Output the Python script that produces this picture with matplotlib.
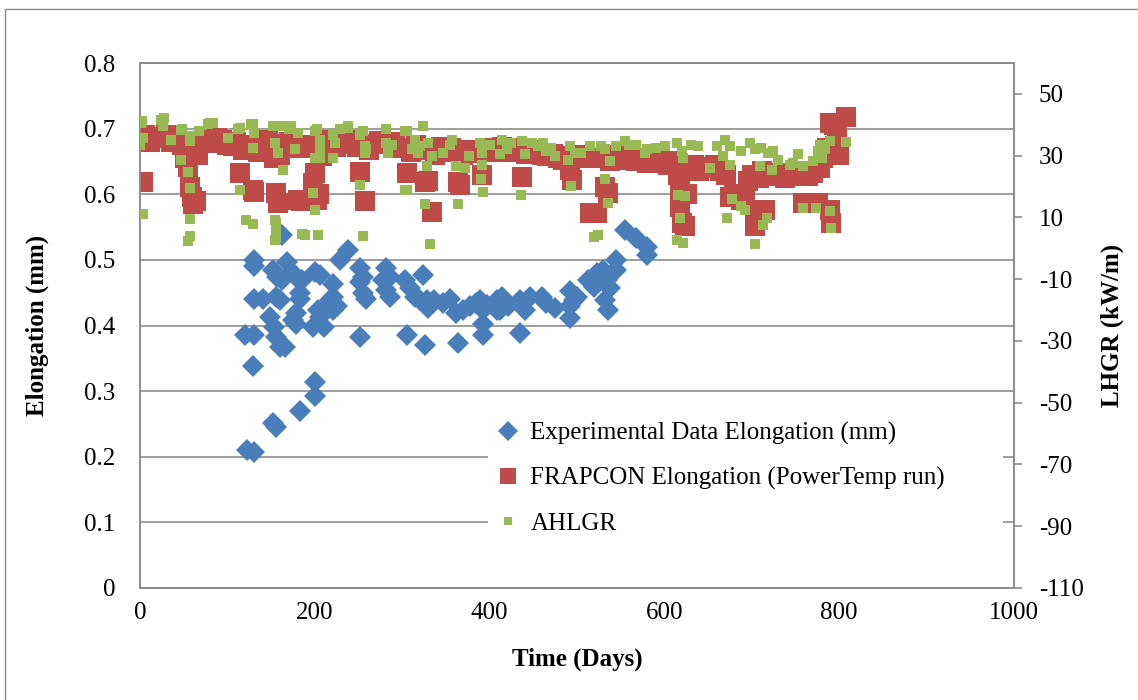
import matplotlib
matplotlib.use("Agg")
import matplotlib.pyplot as plt
from matplotlib.lines import Line2D
from matplotlib.patches import Rectangle

plt.rcParams['font.family'] = ['Liberation Serif', 'DejaVu Serif']
plt.rcParams['font.size'] = 18
plt.rcParams['axes.unicode_minus'] = False

# Experimental data elongation (mm)
exp_days = [122, 130, 129, 120, 130, 130, 141, 130, 131, 162, 149, 153, 156, 160, 166,
            156, 160, 152.5, 156.4, 162, 168, 173.5, 179, 185, 183, 183, 179, 179, 175,
            156, 152.5, 183, 200, 200, 200, 206, 198, 206, 210, 204, 214, 217, 221, 221,
            221, 225, 229, 238, 252, 252, 255.6, 252, 255.6, 259, 282, 286, 278, 282, 286,
            305, 303, 309, 315, 320, 324, 328, 330, 336, 326, 347, 355, 364, 362, 370,
            377.6, 385, 389, 393, 396.6, 393, 393, 408, 408, 414, 421, 412, 435, 435,
            440.5, 446, 460, 465, 475, 492, 496, 492, 492, 500, 513, 522.5, 519, 530, 534,
            537.6, 532, 536, 545, 545, 555, 568, 580, 580]
exp_elong = [0.210, 0.207, 0.339, 0.386, 0.386, 0.440, 0.440, 0.500, 0.490, 0.538, 0.413,
             0.398, 0.383, 0.368, 0.368, 0.444, 0.439, 0.485, 0.474, 0.469, 0.497, 0.482,
             0.474, 0.469, 0.449, 0.441, 0.419, 0.403, 0.408, 0.246, 0.251, 0.269, 0.314,
             0.292, 0.482, 0.477, 0.398, 0.413, 0.398, 0.424, 0.429, 0.439, 0.464, 0.444,
             0.424, 0.429, 0.500, 0.515, 0.383, 0.487, 0.474, 0.467, 0.449, 0.441, 0.487,
             0.474, 0.469, 0.454, 0.444, 0.386, 0.469, 0.457, 0.444, 0.439, 0.477, 0.439,
             0.426, 0.439, 0.370, 0.434, 0.441, 0.373, 0.419, 0.424, 0.429, 0.434, 0.439,
             0.424, 0.431, 0.403, 0.386, 0.439, 0.424, 0.444, 0.429, 0.424, 0.388, 0.439,
             0.424, 0.444, 0.444, 0.434, 0.426, 0.452, 0.439, 0.429, 0.411, 0.444, 0.469,
             0.480, 0.459, 0.485, 0.469, 0.457, 0.439, 0.424, 0.500, 0.485, 0.546, 0.533,
             0.520, 0.507]

# FRAPCON elongation (PowerTemp run), mm
frap_days = [0, 3, 6, 12, 18, 24, 30, 36, 42, 48, 52, 55, 57, 59, 61, 64, 66, 70, 76, 82,
             88, 94, 100, 106, 110, 114, 118, 124, 129, 131, 135, 140, 146, 150, 153, 156,
             158, 160, 164, 170, 176, 181, 184, 188, 194, 198, 200, 202, 205, 208, 212,
             218, 224, 230, 236, 242, 248, 252, 257, 258, 262, 268, 274, 280, 286, 292,
             298, 305, 310, 316, 322, 326, 330, 334, 338, 344, 350, 356, 364, 366, 370,
             376, 382, 388, 391, 396, 402, 408, 414, 420, 426, 432, 437, 442, 448, 454,
             460, 466, 472, 478, 484, 490, 492, 494, 498, 504, 510, 515, 520, 523, 526,
             532, 535, 538, 544, 550, 556, 562, 568, 574, 580, 586, 592, 598, 604, 610,
             615, 618, 618, 620, 624, 626, 628, 634, 640, 646, 652, 658, 664, 670, 675,
             680, 688, 692, 696, 700, 704, 704, 708, 712, 715, 720, 726, 732, 738, 744,
             750, 756, 759, 764, 770, 776, 778, 782, 786, 789, 791, 790, 794, 798, 800, 808]
frap_elong = [0.685, 0.619, 0.690, 0.680, 0.688, 0.686, 0.690, 0.680, 0.684, 0.675, 0.655,
              0.642, 0.611, 0.596, 0.585, 0.590, 0.660, 0.680, 0.683, 0.678, 0.686, 0.682,
              0.675, 0.673, 0.680, 0.632, 0.668, 0.675, 0.606, 0.604, 0.665, 0.680, 0.683,
              0.672, 0.655, 0.602, 0.587, 0.660, 0.676, 0.680, 0.670, 0.591, 0.590, 0.670,
              0.675, 0.617, 0.632, 0.591, 0.600, 0.658, 0.680, 0.683, 0.672, 0.678, 0.683,
              0.676, 0.672, 0.634, 0.589, 0.590, 0.668, 0.676, 0.681, 0.676, 0.680, 0.674,
              0.670, 0.632, 0.665, 0.675, 0.668, 0.619, 0.620, 0.573, 0.660, 0.672, 0.665,
              0.670, 0.619, 0.614, 0.660, 0.668, 0.663, 0.665, 0.629, 0.668, 0.670, 0.665,
              0.672, 0.670, 0.664, 0.668, 0.627, 0.662, 0.668, 0.665, 0.660, 0.658, 0.662,
              0.655, 0.652, 0.658, 0.637, 0.622, 0.655, 0.660, 0.656, 0.571, 0.572, 0.571,
              0.655, 0.611, 0.602, 0.650, 0.660, 0.655, 0.652, 0.656, 0.650, 0.653, 0.648,
              0.655, 0.651, 0.648, 0.645, 0.650, 0.630, 0.611, 0.581, 0.556, 0.551, 0.600,
              0.640, 0.645, 0.636, 0.640, 0.642, 0.645, 0.635, 0.630, 0.596, 0.600, 0.591,
              0.595, 0.620, 0.630, 0.576, 0.551, 0.625, 0.635, 0.576, 0.628, 0.632, 0.630,
              0.625, 0.628, 0.632, 0.630, 0.587, 0.628, 0.632, 0.587, 0.640, 0.655, 0.670,
              0.576, 0.556, 0.709, 0.705, 0.690, 0.660, 0.718]

# AHLGR (kW/m), secondary axis
ahlgr_days = [0, 2, 1.5, 3.4, 3.4, 24, 26, 27, 35.5, 47, 47, 48, 55, 57, 57, 57, 57, 55,
              57, 68, 78, 80, 83.5, 100.7, 112, 114, 114, 121.7, 129, 127, 131, 129, 129,
              152, 162, 154, 158, 164, 154, 156, 156, 154, 156, 173, 171, 181, 177, 185,
              198, 200, 200, 202, 206, 206, 200, 206, 189, 204, 221, 223, 221, 229, 238,
              238, 252, 257, 257, 252, 255, 255, 259, 282, 282, 288, 284, 303, 305, 303,
              305, 324, 315, 311, 318, 330, 320, 334, 328, 326, 332, 347, 357, 355, 362,
              372, 376, 363.5, 389, 391, 391, 390, 393, 400, 414, 419.5, 412, 425, 437,
              448, 440.5, 435.6, 455, 461.5, 465, 470, 475, 492, 498, 490, 493, 505, 515,
              528, 532, 545, 555, 538, 532, 536, 519, 524, 560, 568, 580, 578, 590, 600.7,
              614, 620, 621.6, 616, 623.6, 618, 614, 621.6, 630, 639, 652, 660, 669, 667,
              675, 675, 677, 672, 688, 692, 688, 698, 704, 709, 711, 719, 724.6, 730, 723,
              717, 713, 704, 744, 753, 747.5, 759, 759, 774, 770, 776, 778, 784, 789, 780,
              789, 791, 808]
ahlgr_lhgr = [33.6, 41.2, 40.6, 35.8, 11.2, 41.7, 39.5, 42.3, 35.2, 38.2, 28.7, 38.5, 24.6,
              34.7, 19.6, 9.5, 3.9, 2.3, 36.3, 37.9, 40.1, 40.6, 40.6, 35.8, 38.5, 19.0,
              39.0, 9.3, 8.0, 40.1, 37.4, 32.5, 40.1, 39.5, 39.5, 34.1, 30.9, 25.5, 9.3,
              6.6, 3.4, 2.8, 8.3, 39.5, 38.5, 37.4, 32.0, 4.5, 18.0, 12.5, 37.9, 38.5, 35.2,
              32.5, 29.3, 29.3, 4.4, 4.4, 36.8, 34.1, 29.3, 38.5, 39.0, 39.5, 36.8, 33.1,
              30.9, 20.6, 4.0, 37.9, 32.0, 38.5, 34.1, 33.6, 30.9, 37.9, 19.0, 18.8, 37.9,
              39.5, 35.2, 32.0, 30.9, 34.1, 33.0, 29.8, 26.6, 14.2, 1.5, 30.9, 35.2, 33.6,
              26.6, 26.0, 29.8, 14.5, 34.1, 30.9, 27.1, 22.5, 18.1, 33.5, 35.2, 32.0, 30.4,
              34.0, 34.7, 34.1, 30.4, 17.4, 33.0, 34.1, 31.4, 32.5, 29.8, 33.0, 30.9, 28.7,
              20.3, 31.0, 33.0, 33.0, 32.0, 33.0, 34.7, 28.2, 22.3, 14.7, 3.7, 4.4, 33.5,
              33.6, 32.0, 30.9, 32.5, 33.0, 34.1, 31.4, 29.3, 17.4, 16.8, 9.8, 2.8, 1.7,
              33.5, 33.0, 26.0, 33.0, 35.2, 29.8, 33.0, 27.1, 15.8, 9.8, 13.6, 12.4, 31.4,
              34.1, 32.0, 26.6, 32.5, 30.9, 31.4, 28.7, 25.5, 9.8, 7.5, 1.5, 27.1, 30.4,
              27.7, 26.6, 13.1, 13.1, 28.2, 31.4, 33.6, 32.0, 34.7, 29.3, 12.0, 6.6, 34.3]

x_ticks = [0, 200, 400, 600, 800, 1000]
left_ticks = [0, 0.1, 0.2, 0.3, 0.4, 0.5, 0.6, 0.7, 0.8]
right_ticks = [-110, -90, -70, -50, -30, -10, 10, 30, 50]

BLUE = '#4A7EBB'
RED = '#BE4B48'
GREEN = '#98B954'
GRID = '#8C8C8C'

fig = plt.figure(figsize=(11.38, 7), dpi=100)
ax = fig.add_axes([140 / 1138, 112 / 700, 874 / 1138, 525 / 700])
ax2 = ax.twinx()

ax.plot(exp_days, exp_elong, linestyle='none', marker='D', ms=11.5, color=BLUE,
        markeredgewidth=0, zorder=3)
ax.plot(frap_days, frap_elong, linestyle='none', marker='s', ms=14.5, color=RED,
        markeredgewidth=0, zorder=4)
ax2.plot(ahlgr_days, ahlgr_lhgr, linestyle='none', marker='s', ms=7, color=GREEN,
         markeredgewidth=0, zorder=5)

ax.set_xlim(0, 1000)
ax.set_ylim(0, 0.8)
ax2.set_ylim(-110, 60)
ax.set_xticks(x_ticks)
ax.set_yticks(left_ticks)
ax.set_yticklabels(['0'] + [f'{v:.1f}' for v in left_ticks[1:]])
ax2.set_yticks(right_ticks)

ax.grid(axis='y', color=GRID, linewidth=1.2)
ax.set_axisbelow(True)
for a in (ax, ax2):
    for s in a.spines.values():
        s.set_color(GRID)
        s.set_linewidth(1.2)
ax.tick_params(axis='y', length=0, pad=18)
ax.tick_params(axis='x', length=0, pad=10)
ax2.tick_params(axis='y', length=6, width=1.2, color=GRID, pad=12)

ax.set_xlabel('Time (Days)', fontweight='bold', labelpad=17)
ax.set_ylabel('Elongation (mm)', fontweight='bold', labelpad=25)
ax2.set_ylabel('LHGR (kW/m)', fontweight='bold', labelpad=12)

handles = [
    Line2D([], [], linestyle='none', marker='D', ms=10.5, color=BLUE, markeredgewidth=0),
    Line2D([], [], linestyle='none', marker='s', ms=12, color=RED, markeredgewidth=0),
    Line2D([], [], linestyle='none', marker='s', ms=6, color=GREEN, markeredgewidth=0),
]
labels = ['Experimental Data Elongation (mm)', 'FRAPCON Elongation (PowerTemp run)', 'AHLGR']
leg_x0 = 488 / 1138
leg_w = (1003 - 488) / 1138
leg_top = 1 - 412 / 700
leg = ax2.legend(handles, labels, loc='upper left', mode='expand',
                 bbox_to_anchor=(leg_x0, leg_top - 0.2, leg_w, 0.2),
                 bbox_transform=fig.transFigure, frameon=True, fancybox=False,
                 facecolor='white', edgecolor='none', framealpha=1, handlelength=0.8,
                 handletextpad=0.5, labelspacing=0.88, borderpad=0.4, borderaxespad=0)

# outer chart border
fig.patches.append(Rectangle((5 / 1138, -0.05), 1.1, 1.05 - 9 / 700, fill=False,
                             edgecolor='#8A8A8A', linewidth=1, transform=fig.transFigure))

fig.savefig('out.png', dpi=100)
